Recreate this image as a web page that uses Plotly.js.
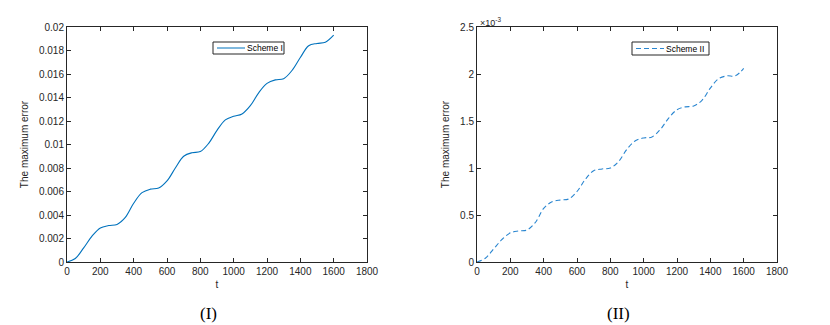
<!DOCTYPE html>
<html>
<head>
<meta charset="utf-8">
<script src="https://cdn.plot.ly/plotly-3.0.1.min.js"></script>
<style>
  html, body { margin: 0; padding: 0; background: #fff; }
  #chart { width: 830px; height: 325px; }
</style>
</head>
<body>
<div id="chart"></div>
<script>
// time samples shared by both panels
var t = [0, 50, 100, 150, 200, 250, 300, 350, 400, 450, 500, 550, 600, 650, 700, 750,
         800, 850, 900, 950, 1000, 1050, 1100, 1150, 1200, 1250, 1300, 1350, 1400, 1450,
         1500, 1550, 1600];

// panel (I): maximum error, scheme I
var errScheme1 = [0, 0.0003, 0.0012, 0.0022, 0.0029, 0.0031, 0.0032, 0.0038, 0.0050,
                  0.0059, 0.0062, 0.0063, 0.0069, 0.0080, 0.0090, 0.0093, 0.0094, 0.0101,
                  0.0112, 0.0121, 0.0124, 0.0126, 0.0133, 0.0144, 0.0152, 0.0155, 0.0156,
                  0.0163, 0.0174, 0.0184, 0.0186, 0.0187, 0.0193];

// panel (II): maximum error, scheme II (in units of 1e-3)
var errScheme2 = [0, 0.04, 0.14, 0.24, 0.31, 0.33, 0.34, 0.42, 0.57, 0.64, 0.66, 0.67,
                  0.75, 0.88, 0.97, 0.99, 1.00, 1.07, 1.20, 1.29, 1.32, 1.33, 1.41, 1.53,
                  1.62, 1.65, 1.66, 1.72, 1.85, 1.95, 1.98, 1.98, 2.06];

var names = ['Scheme I', 'Scheme II'];
var panelLabels = ['(I)', '(II)'];

var W = 830, H = 325;
var axisColor = '#262626';
var color1 = '#0072BD';
var color2 = '#2a86d0';
var tickFont = {family: 'Liberation Sans, Arial, sans-serif', size: 10, color: axisColor};
var smallFont = {family: 'Liberation Sans, Arial, sans-serif', size: 8.5, color: '#000'};

function px(x) { return x / W; }
function py(y) { return 1 - y / H; }

function xAxis(domain, anchor) {
    return {
        domain: domain,
        anchor: anchor,
        range: [0, 1800],
        dtick: 200,
        showgrid: false,
        zeroline: false,
        showline: true,
        mirror: 'ticks',
        linecolor: axisColor,
        linewidth: 1,
        ticks: 'inside',
        ticklen: 4,
        tickcolor: axisColor,
        tickfont: tickFont,
        title: {text: 't', font: tickFont, standoff: 4},
    };
}

function yAxis(domain, anchor, range, dtick) {
    return {
        domain: domain,
        anchor: anchor,
        range: range,
        dtick: dtick,
        showgrid: false,
        zeroline: false,
        showline: true,
        mirror: 'ticks',
        linecolor: axisColor,
        linewidth: 1,
        ticks: 'inside',
        ticklen: 4,
        tickcolor: axisColor,
        tickfont: tickFont,
        title: {text: 'The maximum error', font: tickFont, standoff: 8},
    };
}

var trace1 = {
    x: t,
    y: errScheme1,
    xaxis: 'x',
    yaxis: 'y',
    name: names[0],
    mode: 'lines',
    line: {color: color1, width: 1.1, shape: 'spline', smoothing: 1},
    hoverinfo: 'none',
};

var trace2 = {
    x: t,
    y: errScheme2,
    xaxis: 'x2',
    yaxis: 'y2',
    name: names[1],
    mode: 'lines',
    line: {color: color2, width: 1.1, dash: '5px,3px', shape: 'spline', smoothing: 1},
    hoverinfo: 'none',
};

// small MATLAB-style legend boxes (plotly's own legend has a larger minimum row height)
function legendBox(x0, x1, y0, y1, lineEnd, color, dash) {
    return [
        {type: 'rect', xref: 'paper', yref: 'paper', x0: px(x0), x1: px(x1), y0: py(y0), y1: py(y1),
         line: {color: axisColor, width: 1}, fillcolor: '#fff', layer: 'above'},
        {type: 'line', xref: 'paper', yref: 'paper', x0: px(x0 + 4), x1: px(lineEnd),
         y0: py((y0 + y1) / 2), y1: py((y0 + y1) / 2),
         line: {color: color, width: 1, dash: dash}, layer: 'above'},
    ];
}

var yDom = [py(262), py(27)];

var layout = {
    width: W,
    height: H,
    margin: {l: 0, r: 0, t: 0, b: 0},
    paper_bgcolor: '#fff',
    plot_bgcolor: '#fff',
    showlegend: false,
    xaxis: xAxis([px(67), px(367)], 'y'),
    yaxis: yAxis(yDom, 'x', [0, 0.02], 0.002),
    xaxis2: xAxis([px(477), px(777)], 'y2'),
    yaxis2: yAxis(yDom, 'x2', [0, 2.5], 0.5),
    shapes: legendBox(213, 284, 42, 54, 245, color1, 'solid')
        .concat(legendBox(632, 709, 42, 55, 664, color2, '5px,3px')),
    annotations: [
        {
            text: names[0],
            xref: 'paper', yref: 'paper',
            x: px(245), y: py(48),
            xanchor: 'left', yanchor: 'middle',
            showarrow: false,
            font: smallFont,
        },
        {
            text: names[1],
            xref: 'paper', yref: 'paper',
            x: px(664), y: py(48.5),
            xanchor: 'left', yanchor: 'middle',
            showarrow: false,
            font: smallFont,
        },
        {
            text: '×10<sup>-3</sup>',
            xref: 'paper', yref: 'paper',
            x: px(478), y: py(22),
            xanchor: 'left', yanchor: 'middle',
            showarrow: false,
            font: {family: 'Liberation Sans, Arial, sans-serif', size: 9, color: axisColor},
        },
        {
            text: panelLabels[0],
            xref: 'paper', yref: 'paper',
            x: px(208), y: py(313),
            xanchor: 'center', yanchor: 'middle',
            showarrow: false,
            font: {family: 'Liberation Serif, Times New Roman, serif', size: 17, color: '#000'},
        },
        {
            text: panelLabels[1],
            xref: 'paper', yref: 'paper',
            x: px(618), y: py(313),
            xanchor: 'center', yanchor: 'middle',
            showarrow: false,
            font: {family: 'Liberation Serif, Times New Roman, serif', size: 17, color: '#000'},
        },
    ],
};

Plotly.newPlot(document.getElementById('chart'), [trace1, trace2], layout, {staticPlot: true});
</script>
</body>
</html>
